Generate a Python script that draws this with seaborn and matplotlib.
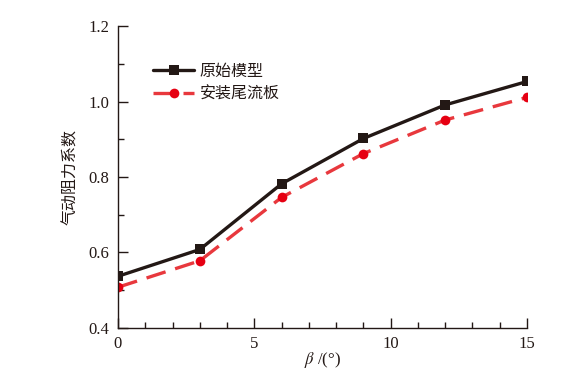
import matplotlib
matplotlib.use("Agg")
import matplotlib.pyplot as plt
import seaborn as sns
import pandas as pd
from matplotlib.ticker import MultipleLocator

beta = [0, 3, 6, 9, 12, 15]
original = [0.537, 0.608, 0.782, 0.902, 0.991, 1.053]
with_plate = [0.508, 0.578, 0.746, 0.862, 0.951, 1.011]
names = ["原始模型", "安装尾流板"]

df = pd.DataFrame({"beta": beta * 2,
                   "cd": original + with_plate,
                   "case": [names[0]] * len(beta) + [names[1]] * len(beta)})

sns.set_theme(style="ticks")
plt.rcParams['font.family'] = ['Liberation Serif', 'Noto Sans CJK SC', 'DejaVu Sans']
plt.rcParams['mathtext.fontset'] = 'stix'

fig = plt.figure(figsize=(5.83, 3.87), dpi=100)
ax = fig.add_axes([0.2024, 0.1525, 0.7016, 0.7803])

sns.lineplot(data=df, x="beta", y="cd", hue="case", style="case",
             palette={names[0]: "#231815", names[1]: "#e8383d"},
             markers={names[0]: "s", names[1]: "o"},
             dashes={names[0]: "", names[1]: (6, 3)},
             linewidth=2.4, markersize=7, markeredgewidth=0, ax=ax)
for l in ax.lines:
    if l.get_color() == "#e8383d":
        l.set_markerfacecolor("#e60012")

ax.set_xlim(0, 15)
ax.set_ylim(0.4, 1.2)
ax.xaxis.set_major_locator(MultipleLocator(5))
ax.xaxis.set_minor_locator(MultipleLocator(1))
ax.yaxis.set_major_locator(MultipleLocator(0.2))
ax.yaxis.set_minor_locator(MultipleLocator(0.1))
ax.yaxis.set_major_formatter(matplotlib.ticker.FormatStrFormatter('%.1f'))
ax.tick_params(which='major', direction='in', length=7, width=1, labelsize=12, colors='#231815', pad=6)
ax.tick_params(which='minor', direction='in', length=4, width=1, colors='#231815')
for t in ax.get_xticklabels() + ax.get_yticklabels():
    t.set_fontfamily('Liberation Serif')
sns.despine(ax=ax)
for s in ("left", "bottom"):
    ax.spines[s].set_color('#231815')
    ax.spines[s].set_linewidth(1)

ax.set_xlabel(r"$\mathit{\beta}$ /(°)", fontsize=12, color='#231815',
              fontfamily=['Liberation Serif', 'DejaVu Sans'], labelpad=-2)
ax.set_ylabel("气动阻力系数", fontsize=11.5, color='#231815', fontfamily=['Noto Sans CJK SC'], labelpad=7)

leg = ax.legend(loc='upper left', bbox_to_anchor=(0.05, 0.925), frameon=False,
                handlelength=2.6, labelspacing=0.35, handletextpad=0.35,
                prop={'family': 'Noto Sans CJK SC', 'size': 11.5})
for t in leg.get_texts():
    t.set_color('#231815')

fig.savefig("out.png", dpi=100)
